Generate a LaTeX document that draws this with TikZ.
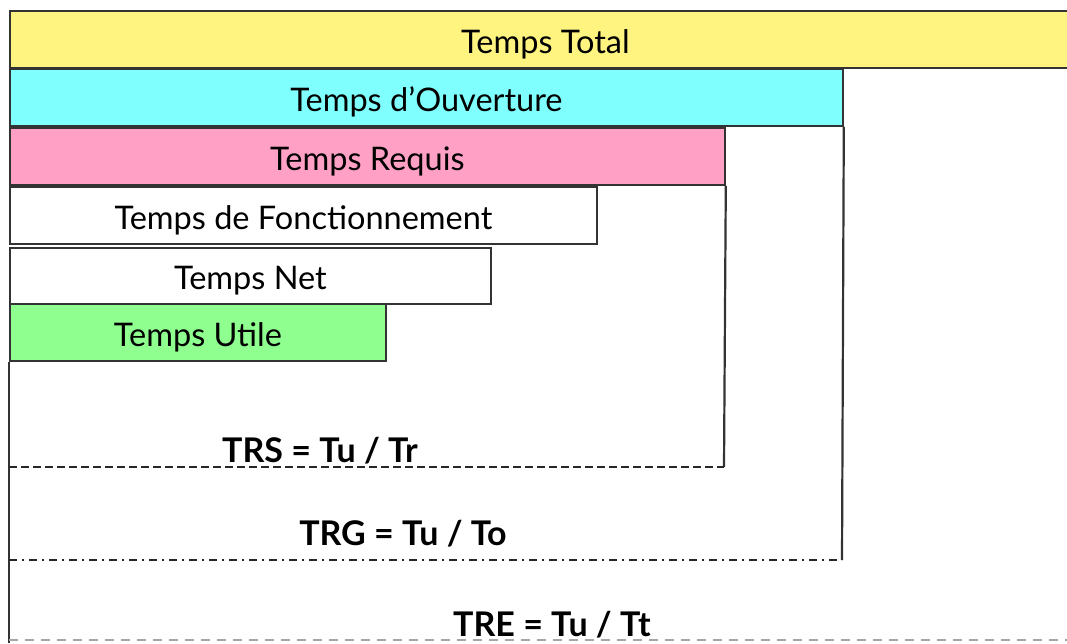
\documentclass[tikz,border=0pt]{standalone}
\usepackage{fontspec}
\setmainfont{Lato}
\begin{document}
\begin{tikzpicture}[x=1pt,y=-1pt,
  bar/.style={draw=black!80, line width=1.8pt, inner sep=0pt, anchor=north west,
    text height=28pt, text depth=0pt,
    font=\fontsize{32.5}{38}\selectfont},
  ratio/.style={font=\fontsize{34}{40}\selectfont\bfseries, inner sep=0pt, anchor=base},
  frame/.style={draw=black!80, line width=2.2pt},
  dashA/.style={draw=black!85, line width=2.4pt, dash pattern=on 8pt off 4pt},
  dashB/.style={draw=black!85, line width=2.4pt, dash pattern=on 8pt off 5pt on 2pt off 5pt},
  dashC/.style={draw=black!35, line width=2.2pt, dash pattern=on 9pt off 7pt}]
\useasboundingbox (0,0) rectangle (1067,643);
\clip (0,0) rectangle (1067,643);
\node[bar, fill={rgb,255:red,255;green,244;blue,128}, minimum width=1071pt, minimum height=57pt] (tt) at (9,10) {Temps Total};
\node[bar, fill={rgb,255:red,128;green,255;blue,255}, minimum width=833pt, minimum height=57pt] (to) at (9,68) {Temps d’Ouverture};
\node[bar, fill={rgb,255:red,255;green,160;blue,196}, minimum width=715pt, minimum height=57pt] (tr) at (9,127) {Temps Requis};
\node[bar, fill=white, minimum width=587pt, minimum height=57pt] (tf) at (9,186) {Temps de Fonctionnement};
\node[bar, fill=white, minimum width=481pt, minimum height=56pt] (tn) at (9,247) {Temps Net};
\node[bar, fill={rgb,255:red,143;green,255;blue,143}, minimum width=376pt, minimum height=57pt] (tu) at (9,303) {Temps Utile};
% frames
\coordinate (trsR) at (724,467);
\coordinate (trsL) at (9,467);
\coordinate (trgR) at (842,560);
\coordinate (trgL) at (9,560);
\coordinate (treL) at (9,640);
\coordinate (treR) at (1067,640);
\coordinate (leftB) at (9,643);
\draw[frame] (tr.south east) -- (trsR);
\draw[frame] (to.south east) -- (trgR);
\draw[frame] (tu.south west) -- (leftB);
\draw[dashA] (trsL) -- (trsR);
\draw[dashB] (trgL) -- (trgR);
\draw[dashC] (treL) -- (treR);
\node[ratio] (trs) at (320,462) {TRS = Tu / Tr};
\node[ratio] (trg) at (403,545) {TRG = Tu / To};
\node[ratio] (tre) at (552,636) {TRE = Tu / Tt};
\end{tikzpicture}
\end{document}
